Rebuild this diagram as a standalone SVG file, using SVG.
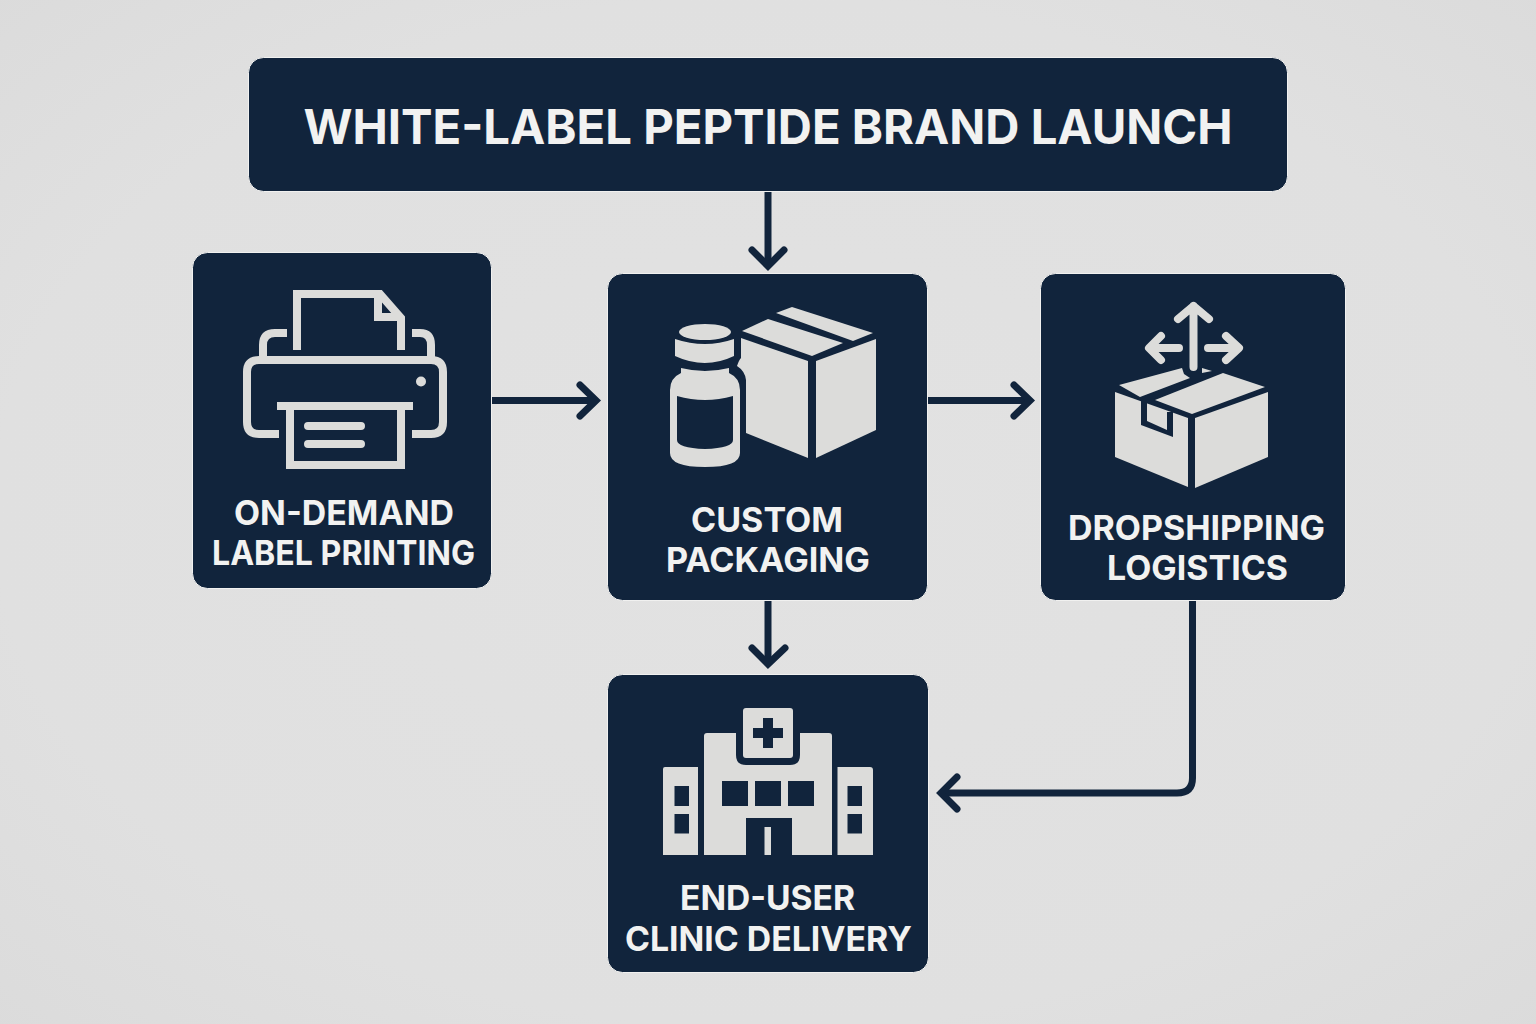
<svg xmlns="http://www.w3.org/2000/svg" width="1536" height="1024" viewBox="0 0 1536 1024">
<defs>
<radialGradient id="bg" cx="50%" cy="50%" r="72%"><stop offset="0" stop-color="#e2e2e2"/><stop offset="0.7" stop-color="#e0e0e0"/><stop offset="1" stop-color="#dbdbdb"/></radialGradient>
</defs>
<style>
.box{fill:#11243c;stroke:#f1f1f0;stroke-width:1}
.t{font-family:"Inter","Liberation Sans",sans-serif;font-weight:700;fill:#f2f2f1;text-anchor:middle}
.lab{font-size:34px}
.title{font-size:48px}
.con{fill:none;stroke:#11243c;stroke-width:7}
.head{fill:none;stroke:#11243c;stroke-width:7;stroke-linecap:round;stroke-linejoin:miter}
.f{fill:#dcdcda}
.d{fill:#11243c}
.s{fill:none;stroke:#dcdcda;stroke-width:8}
</style>
<rect width="1536" height="1024" fill="url(#bg)"/>
<g id="connectors">
<path class="con" d="M768 191V264"/><path class="head" d="M752 250L768 266L784 250"/>
<path class="con" d="M491 400.500H594"/><path class="head" d="M580 385L596 400.500L580 416"/>
<path class="con" d="M927 400.500H1028"/><path class="head" d="M1014 385L1030 400.500L1014 416"/>
<path class="con" d="M768 600V662"/><path class="head" d="M752 648L768 664L785 648"/>
<path class="con" d="M1192.500 600V778Q1192.500 793 1177 793H944"/><path class="head" d="M957 777L941 793L957 809"/>
</g>
<g id="node-title">
<rect class="box" x="248.500" y="57.500" width="1039" height="134" rx="15"/>
<text class="t title" x="768" y="144" textLength="929" lengthAdjust="spacingAndGlyphs">WHITE-LABEL PEPTIDE BRAND LAUNCH</text>
</g>
<g id="node-printing">
<rect class="box" x="192.500" y="252.500" width="299" height="336" rx="15"/>
<path class="s" d="M297 350V294H380L401 318V350"/>
<path class="s" stroke-width="7" d="M378 295V317H401"/>
<path class="s" d="M287 333H275Q263 333 263 345V357M412 333H420Q431 333 431 345V357"/>
<path class="s" d="M279 434H259Q247 434 247 422V372Q247 360 259 360H431Q443 360 443 372V422Q443 434 431 434H412"/>
<rect class="f" x="277" y="402" width="136" height="8"/>
<path class="s" d="M290 406V465H401V406"/>
<path class="s" stroke-width="7" stroke-linecap="round" d="M308 426H361M308 444H361"/>
<circle class="f" cx="421" cy="381.500" r="5"/>
<text class="t lab" x="344" y="525" textLength="220" lengthAdjust="spacingAndGlyphs">ON-DEMAND</text>
<text class="t lab" x="343.500" y="565" textLength="263" lengthAdjust="spacingAndGlyphs">LABEL PRINTING</text>
</g>
<g id="node-packaging">
<rect class="box" x="607.500" y="273.500" width="320" height="327" rx="15"/>
<ellipse class="f" cx="705" cy="332" rx="26" ry="8"/>
<path class="f" d="M675 339Q705 349 734 339V356Q705 370 675 356Z"/>
<path class="f" d="M681 368Q705 374 729 368V373Q740 378 740 390V453Q740 467 705 467Q670 467 670 453V390Q670 378 681 373Z"/>
<path class="d" d="M677 396Q705 404 733 396V440Q733 448 705 449Q677 448 677 440Z"/>
<path class="f" d="M741 338L808 361V458L746 433V380Q745 371 737 366Q739 360 741 358Z"/>
<path class="f" d="M816 361L876 339V430L816 458Z"/>
<path class="f" d="M742 331L768 319L843 343L812 356Z"/>
<path class="f" d="M776 313L792 307L873 333L853 341Z"/>
<text class="t lab" x="767" y="532" textLength="152" lengthAdjust="spacingAndGlyphs">CUSTOM</text>
<text class="t lab" x="768" y="572" textLength="204" lengthAdjust="spacingAndGlyphs">PACKAGING</text>
</g>
<g id="node-dropshipping">
<rect class="box" x="1040.500" y="273.500" width="305" height="327" rx="15"/>
<path class="s" stroke-width="7" stroke-linecap="round" stroke-linejoin="round" d="M1193.500 367V306M1178 319L1193.500 306L1209 319M1179 348H1150M1161 336L1149 348L1161 360M1208 348H1238M1226 336L1239 348L1226 360"/>
<path class="f" d="M1115 392L1188 418V487L1115 457Z"/>
<path class="d" d="M1141 400H1147V421L1167 430V412H1173V437L1141 425Z"/>
<path class="f" d="M1150 407L1164 412V427L1150 420Z"/>
<path class="f" d="M1195 418L1268 392V457L1195 488Z"/>
<path class="f" d="M1155 400L1223 373L1265 387L1192 414Z"/>
<path class="f" d="M1119 385L1182 368L1184 374L1190 378L1140 397Z"/>
<path class="f" d="M1202 368L1212 371L1202 373Z"/>
<text class="t lab" x="1196.500" y="539.500" textLength="257" lengthAdjust="spacingAndGlyphs">DROPSHIPPING</text>
<text class="t lab" x="1197.500" y="580" textLength="181" lengthAdjust="spacingAndGlyphs">LOGISTICS</text>
</g>
<g id="node-clinic">
<rect class="box" x="607.500" y="674.500" width="321" height="298" rx="15"/>
<rect class="f" x="743" y="708" width="50" height="50" rx="3"/>
<path class="d" d="M763 718H773V728H783V738H773V748H763V738H753V728H763Z"/>
<path class="f" d="M707 733H736V755Q736 765 746 765H790Q800 765 800 755V733H829Q832 733 832 736V855H792V818H746V855H704V736Q704 733 707 733Z"/>
<rect class="d" x="722" y="781" width="26" height="25"/><rect class="d" x="755" y="781" width="26" height="25"/><rect class="d" x="788" y="781" width="26" height="25"/>
<rect class="f" x="764.500" y="827" width="6.500" height="28"/>
<path class="f" fill-rule="evenodd" d="M665 767H698V855H663V769Q663 767 665 767ZM674.500 786V806H689V786ZM674.500 814V833.500H689V814Z"/>
<path class="f" fill-rule="evenodd" d="M837.500 767H870Q873 767 873 770V855H837.500ZM847.500 786V806H862V786ZM847.500 814V833.500H862V814Z"/>
<text class="t lab" x="767.500" y="910" textLength="175" lengthAdjust="spacingAndGlyphs">END-USER</text>
<text class="t lab" x="768.500" y="951" textLength="287" lengthAdjust="spacingAndGlyphs">CLINIC DELIVERY</text>
</g>
</svg>
